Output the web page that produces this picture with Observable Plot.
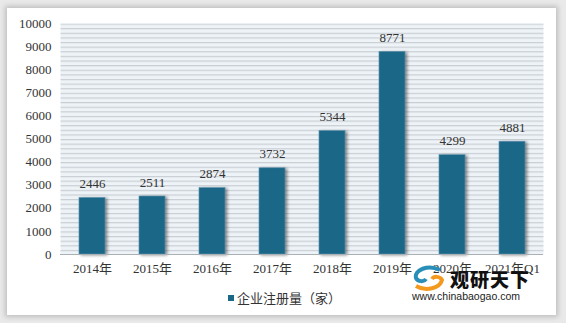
<!DOCTYPE html>
<html>
<head>
<meta charset="utf-8">
<script src="https://cdn.jsdelivr.net/npm/d3@7"></script>
<script src="https://cdn.jsdelivr.net/npm/@observablehq/plot@0.6"></script>
<style>
  html, body { margin: 0; padding: 0; background: #e9e9e9; width: 566px; height: 323px; overflow: hidden; }
  #card { position: absolute; left: 7px; top: 8px; width: 549px; height: 307px; background: #fff; box-shadow: 0 0 5px 2px rgba(0,0,0,0.18); }
  #chart { position: absolute; left: 0; top: 0; }
  #legend { position: absolute; left: 228px; top: 288px; font-family: "Noto Sans CJK SC", sans-serif; font-size: 13px; color: #333; display: flex; align-items: center; }
  #legend .sw { width: 6px; height: 6px; background: #1b6788; margin-right: 3px; }
  #wm { position: absolute; left: 408px; top: 268px; font-family: "Noto Sans CJK SC", sans-serif; }
  #wm .cn { position: absolute; left: 42px; top: 0px; font-size: 19px; font-weight: 900; color: #111; letter-spacing: 1px; white-space: nowrap; line-height: 22px; }
  #wm .url { position: absolute; left: 4px; top: 22px; font-family: "Liberation Sans", Arial, sans-serif; font-size: 10.5px; color: #222; white-space: nowrap; }
  .bars { filter: drop-shadow(2px 1px 1.5px rgba(0,0,0,0.45)); }
  svg text { font-family: "Liberation Serif", "Noto Sans CJK SC", serif; }
</style>
</head>
<body>
<div id="card"></div>
<div id="chart"></div>
<div id="legend"><div class="sw"></div><span>企业注册量（家）</span></div>
<div id="wm">
  <svg width="44" height="28" style="position:absolute;left:2px;top:-4px">
    <path d="M30 6 C18 0 4 6 6 14 C8 18 14 18 16 15" fill="none" stroke="#2a8fb8" stroke-width="4"/>
    <path d="M6 22 C16 28 30 24 32 16 C30 12 24 12 22 15" fill="none" stroke="#f39a1e" stroke-width="4"/>
  </svg>
  <div class="cn">观研天下</div>
  <div class="url">www.chinabaogao.com</div>
</div>
<script>
const categories = ["2014年","2015年","2016年","2017年","2018年","2019年","2020年","2021年Q1"];
const values = [2446, 2511, 2874, 3732, 5344, 8771, 4299, 4881];
const yTicks = [0,1000,2000,3000,4000,5000,6000,7000,8000,9000,10000];

const data = categories.map((c, i) => ({category: c, value: values[i]}));
const barColor = "#1b6788";

const plot = Plot.plot({
  width: 566,
  height: 280,
  marginTop: 23,
  marginBottom: 26,
  marginLeft: 60,
  marginRight: 23,
  style: {background: "transparent", fontSize: "13px", color: "#333", overflow: "visible"},
  x: {domain: categories, paddingInner: 0.57, paddingOuter: 0.285, label: null},
  y: {domain: [0, 10000], label: null},
  marks: [
    Plot.frame({fill: "url(#stripes)", stroke: null}),
    Plot.barY(data, {x: "category", y: "value", fill: barColor, stroke: "#5f93ad", strokeWidth: 0.6}),
    Plot.ruleY([0], {stroke: "#a9b0b6", strokeWidth: 1}),
    Plot.text(data, {x: "category", y: "value", text: d => String(d.value), dy: -14, fill: "#333", fontSize: 13}),
    Plot.axisX({tickSize: 0, tickPadding: 9, fontSize: 13, fill: "#333", label: null}),
    Plot.axisY({ticks: yTicks, tickSize: 0, tickPadding: 9, fontSize: 13, fill: "#333", tickFormat: d => String(d), label: null})
  ]
});

const svg = d3.select(plot);
const defs = svg.insert("defs", ":first-child");
const pat = defs.append("pattern")
  .attr("id", "stripes")
  .attr("patternUnits", "userSpaceOnUse")
  .attr("x", 0).attr("y", 23)
  .attr("width", 10).attr("height", 4.62);
pat.append("rect").attr("width", 10).attr("height", 4.62).attr("fill", "#eef3f8");
pat.append("rect").attr("y", 0).attr("width", 10).attr("height", 1.2).attr("fill", "#c9ced4");
svg.selectAll("g[aria-label='bar']").attr("class", "bars");

document.getElementById("chart").appendChild(plot);
</script>
</body>
</html>
